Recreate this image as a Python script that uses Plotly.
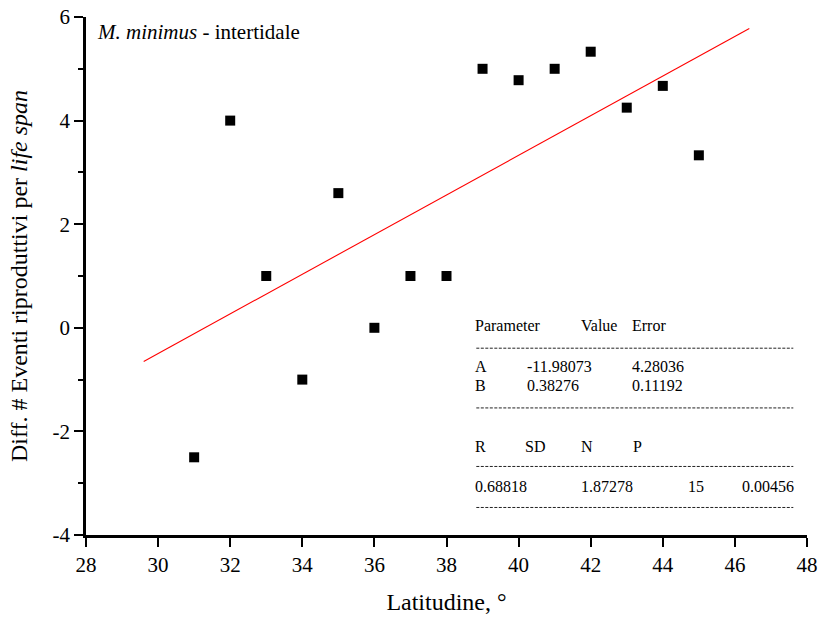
import plotly.graph_objects as go

# Latitude (degrees) and difference in reproductive events per life span
latitude = [31, 32, 33, 34, 35, 36, 37, 38, 39, 40, 41, 42, 43, 44, 45]
diff_events = [-2.5, 4.0, 1.0, -1.0, 2.6, 0.0, 1.0, 1.0, 5.0, 4.78, 5.0, 5.33, 4.25, 4.67, 3.33]

# Linear fit results
fit_A, fit_A_err = -11.98073, 4.28036
fit_B, fit_B_err = 0.38276, 0.11192
fit_R, fit_SD, fit_N, fit_P = 0.68818, 1.87278, 15, 0.00456
fit_x_range = [29.6, 46.4]

x_ticks = [28, 30, 32, 34, 36, 38, 40, 42, 44, 46, 48]
y_ticks = [-4, -2, 0, 2, 4, 6]

W, H = 821, 617
L, R, T, B = 85.7, 806.7, 17.3, 535.0
FONT = "'Liberation Serif', 'Times New Roman', serif"
PAD = 3  # annotation box padding in px


def px(xp):
    return (xp - L) / (R - L)


def py(yp):
    return (B - yp) / (B - T)


fit_y = [fit_A + fit_B * x for x in fit_x_range]

fig = go.Figure()
fig.add_trace(go.Scatter(
    x=fit_x_range, y=fit_y, mode="lines",
    line=dict(color="#ff0000", width=1.1), showlegend=False, hoverinfo="skip",
))
fig.add_trace(go.Scatter(
    x=latitude, y=diff_events, mode="markers",
    marker=dict(symbol="square", size=10, color="black", line=dict(width=0)),
    showlegend=False,
))

axis_common = dict(
    showgrid=False, zeroline=False, showline=True, linecolor="black", linewidth=2.5,
    ticks="outside", ticklen=9, tickwidth=2, tickcolor="black", automargin=False,
    tickfont=dict(family=FONT, size=21, color="black"),
)

fig.update_xaxes(
    range=[28, 48], tickvals=x_ticks, ticktext=[str(v) for v in x_ticks],
    title=dict(text="Latitudine, °", font=dict(family=FONT, size=24, color="black"), standoff=18),
    **axis_common,
)
fig.update_yaxes(
    range=[-4, 6], tickvals=y_ticks, ticktext=[str(v) for v in y_ticks],
    title=dict(text="Diff. # Eventi riproduttivi per <i>life span</i>",
               font=dict(family=FONT, size=24, color="black"), standoff=19),
    minor=dict(dtick=1, ticks="outside", ticklen=5, tickwidth=2, tickcolor="black"),
    **axis_common,
)

annotations = [dict(
    x=px(98 - PAD), y=py(32), xref="paper", yref="paper", xanchor="left", yanchor="middle",
    text="<i>M. minimus</i> - intertidale", showarrow=False,
    font=dict(family=FONT, size=21, color="black"),
)]

# Fit statistics table: (text, x px, center y px, anchor)
table_cells = [
    ("Parameter", 476, 326, "left"), ("Value", 582, 326, "left"), ("Error", 633, 326, "left"),
    ("A", 476, 367, "left"), (f"{fit_A:.5f}", 528, 367, "left"), (f"{fit_A_err:.5f}", 633, 367, "left"),
    ("B", 476, 386, "left"), (f"{fit_B:.5f}", 528, 386, "left"), (f"{fit_B_err:.5f}", 633, 386, "left"),
    ("R", 476, 447, "left"), ("SD", 526, 447, "left"), ("N", 582, 447, "left"), ("P", 634, 447, "left"),
    (f"{fit_R:.5f}", 476, 487, "left"), (f"{fit_SD:.5f}", 582, 487, "left"),
    (str(fit_N), 703, 487, "right"), (f"{fit_P:.5f}", 793, 487, "right"),
]
for text, xp, yp, anchor in table_cells:
    shift = -PAD if anchor == "left" else PAD
    annotations.append(dict(
        x=px(xp + shift), y=py(yp), xref="paper", yref="paper", xanchor=anchor, yanchor="middle",
        text=text, showarrow=False, font=dict(family=FONT, size=16, color="black"),
    ))

shapes = []
for yp in [348.3, 408, 466.5, 507.5]:
    shapes.append(dict(
        type="line", xref="paper", yref="paper", x0=px(476), x1=px(793), y0=py(yp), y1=py(yp),
        line=dict(color="#222222", width=1, dash="3px,1.5px"),
    ))

fig.update_layout(
    width=W, height=H,
    margin=dict(l=L, r=W - R, t=T, b=H - B, pad=0, autoexpand=False),
    paper_bgcolor="white", plot_bgcolor="white",
    annotations=annotations, shapes=shapes,
    font=dict(family=FONT, color="black"),
)

fig.write_html("out.html")
